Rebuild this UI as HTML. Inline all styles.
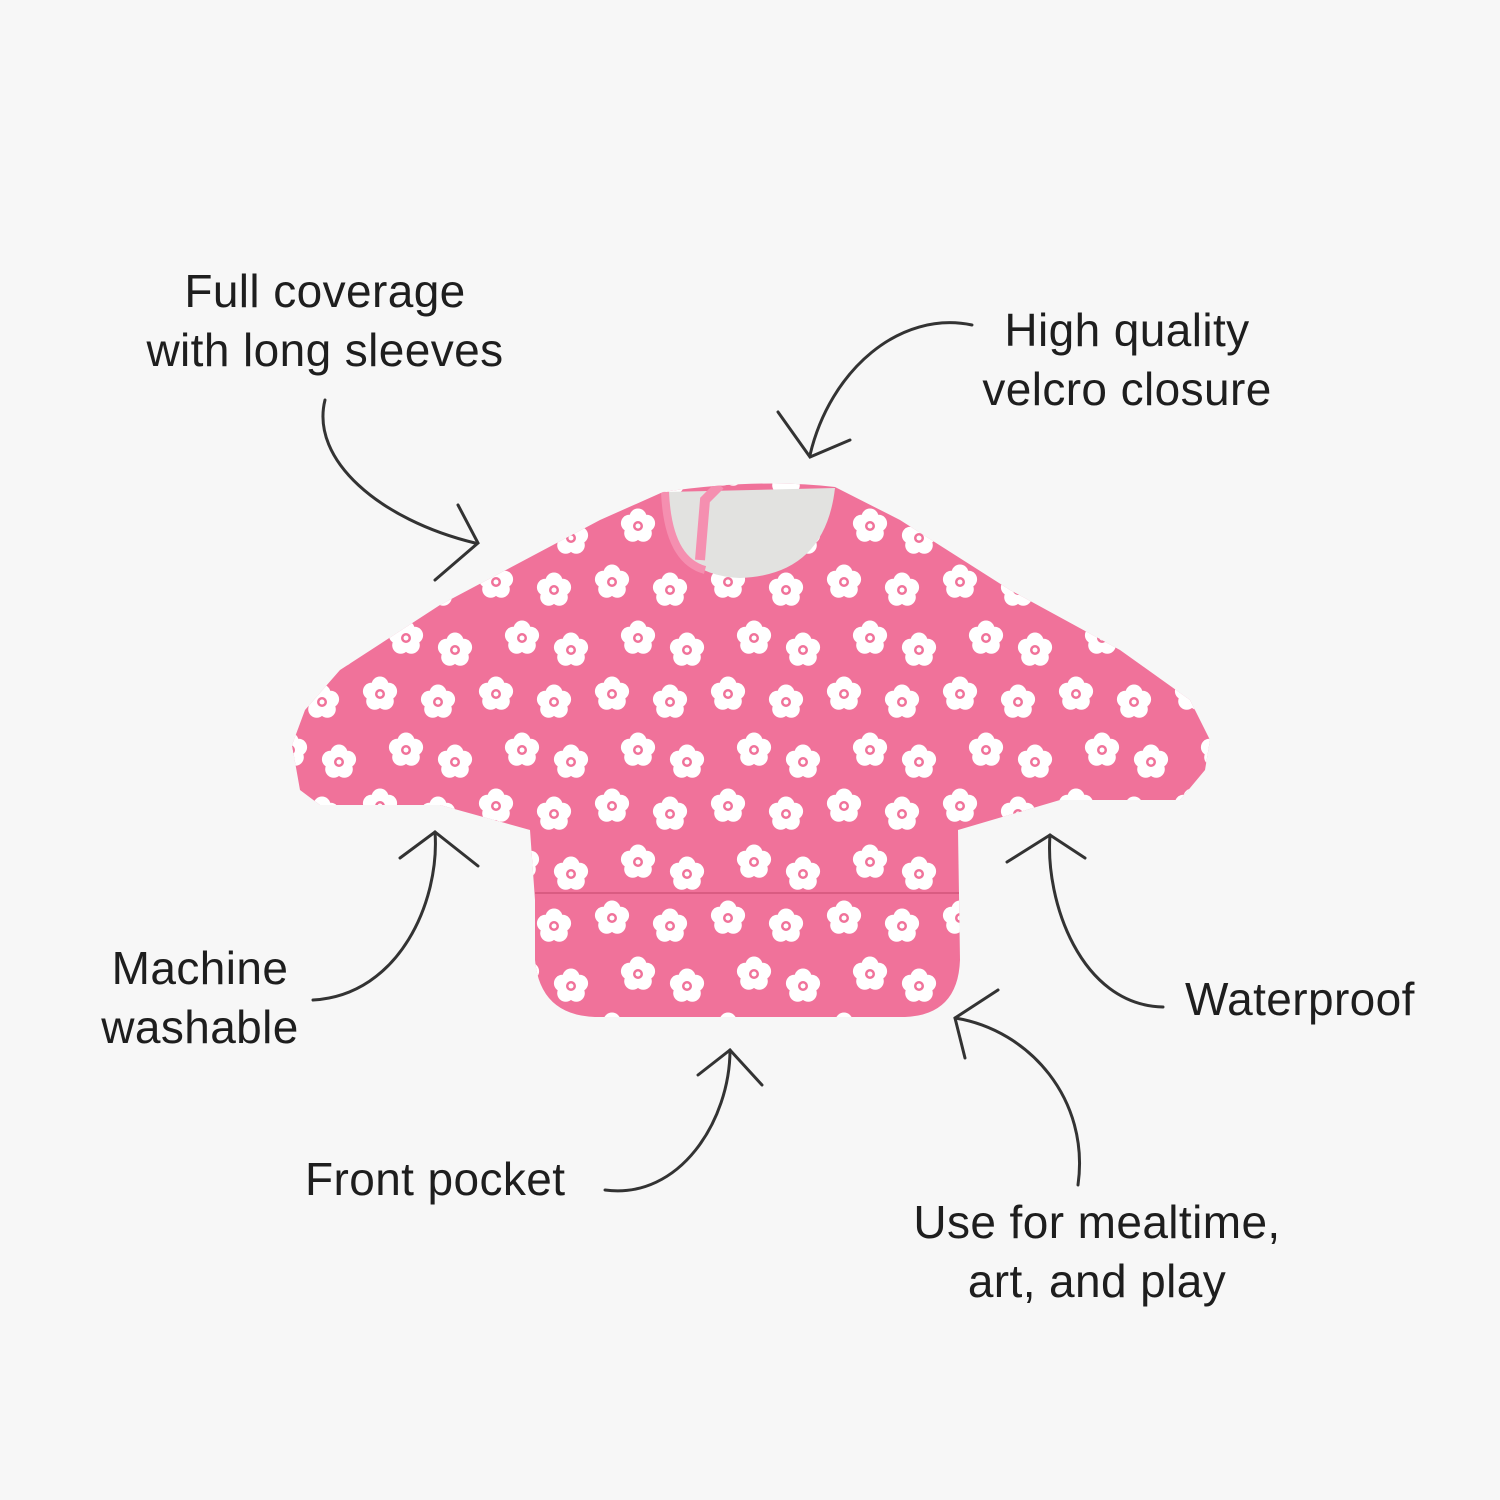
<!DOCTYPE html>
<html><head><meta charset="utf-8"><style>
html,body{margin:0;padding:0;background:#f7f7f7;}
svg{display:block}
text{font-family:"Liberation Sans",sans-serif;font-size:46px;fill:#1e1e1e;letter-spacing:0.4px;}
</style></head><body>
<svg width="1500" height="1500" viewBox="0 0 1500 1500">
<defs>
<g id="fl">
<circle cx="0" cy="-9" r="8.5" fill="#fff"/>
<circle cx="8.6" cy="-2.8" r="8.5" fill="#fff"/>
<circle cx="5.3" cy="7.3" r="8.5" fill="#fff"/>
<circle cx="-5.3" cy="7.3" r="8.5" fill="#fff"/>
<circle cx="-8.6" cy="-2.8" r="8.5" fill="#fff"/>
<circle cx="0" cy="0" r="5" fill="#f0729a"/>
<circle cx="0" cy="0" r="2.5" fill="#fff"/>
</g>
<pattern id="pt" x="10" y="0" width="116" height="112" patternUnits="userSpaceOnUse">
<use href="#fl" x="22" y="22"/>
<use href="#fl" x="80" y="30"/>
<use href="#fl" x="48" y="78"/>
<use href="#fl" x="97" y="90"/>
</pattern>
<clipPath id="bc"><path d="M663,492 L600,520 L440,605 L340,670 L305,710 L292,745 L300,790 L320,805 L440,805 L530,830 L535,900 L535,960 Q540,1015 595,1017 L905,1017 Q958,1015 960,960 L958,830 L1060,800 L1180,800 L1205,770 L1210,740 L1190,700 L1120,650 L1010,590 L900,520 L835,487 Q760,478 663,492 Z"/></clipPath>
</defs>
<g clip-path="url(#bc)">
<rect x="280" y="470" width="950" height="560" fill="#f0729a"/>
<rect x="280" y="470" width="950" height="560" fill="url(#pt)"/>
<path d="M535,893 L960,893" stroke="#d95c82" stroke-width="2"/>
<path d="M665,492 Q665,575 740,578 Q825,575 835,488 Z" fill="#e2e2e0"/>
<path d="M665,492 Q668,560 705,570" stroke="#f58fb0" stroke-width="8" fill="none"/>
<path d="M700,560 L705,500 L720,485" stroke="#f58fb0" stroke-width="10" fill="none"/>
</g>
<g fill="none" stroke="#333" stroke-width="3" stroke-linecap="round">
<path d="M325,400 C310,460 380,520 475,543"/><path d="M458,505 L478,543 L435,580"/>
<path d="M972,325 C900,310 830,370 810,455"/><path d="M778,412 L810,457 L850,440"/>
<path d="M313,1000 C400,995 440,900 435,832"/><path d="M400,858 L435,832 L478,866"/>
<path d="M1163,1007 C1080,1005 1045,900 1050,835"/><path d="M1007,862 L1050,835 L1085,858"/>
<path d="M605,1190 C680,1200 730,1120 730,1050"/><path d="M698,1075 L730,1050 L762,1085"/>
<path d="M1078,1185 C1090,1100 1030,1030 955,1018"/><path d="M998,990 L955,1018 L965,1058"/>
</g>
<text x="325" y="307" text-anchor="middle">Full coverage</text>
<text x="325" y="366" text-anchor="middle">with long sleeves</text>
<text x="1127" y="346" text-anchor="middle">High quality</text>
<text x="1127" y="405" text-anchor="middle">velcro closure</text>
<text x="200" y="984" text-anchor="middle">Machine</text>
<text x="200" y="1043" text-anchor="middle">washable</text>
<text x="1185" y="1015">Waterproof</text>
<text x="305" y="1195">Front pocket</text>
<text x="1097" y="1238" text-anchor="middle">Use for mealtime,</text>
<text x="1097" y="1297" text-anchor="middle">art, and play</text>
</svg>
</body></html>
